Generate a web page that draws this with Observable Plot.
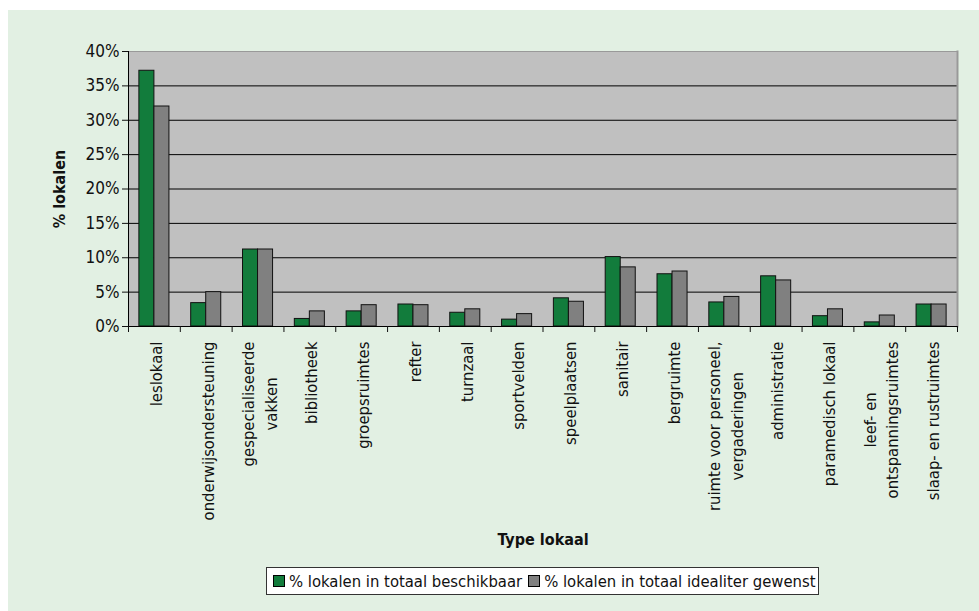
<!DOCTYPE html>
<html><head><meta charset="utf-8">
<script src="https://cdn.jsdelivr.net/npm/d3@7"></script>
<script src="https://cdn.jsdelivr.net/npm/@observablehq/plot@0.6"></script>
<style>
html,body{margin:0;padding:0;background:#fff;}
#panel{position:absolute;left:8px;top:10px;width:971px;height:601px;background:#e2f0e3;font-family:"DejaVu Sans Condensed","Liberation Sans Narrow",sans-serif;}
#chart{position:absolute;left:0;top:0;}
#legend{position:absolute;left:258px;top:557px;width:551px;height:26px;border:1px solid #333;background:#fff;display:flex;align-items:center;font-size:16.5px;color:#111;white-space:nowrap;box-sizing:content-box;}
.sw{flex:0 0 auto;display:inline-block;width:10px;height:10px;border:1px solid #000;margin:0 4px 0 6px;}
</style>
</head><body>
<div id="panel"><div id="chart"></div>
<div id="legend"><span class="sw" style="background:#127c3c"></span><span>% lokalen in totaal beschikbaar</span><span class="sw" style="background:#808080"></span><span>% lokalen in totaal idealiter gewenst</span></div>
</div>
<script>
const categories = ["leslokaal","onderwijsondersteuning","gespecialiseerde\nvakken","bibliotheek","groepsruimtes","refter","turnzaal","sportvelden","speelplaatsen","sanitair","bergruimte","ruimte voor personeel,\nvergaderingen","administratie","paramedisch lokaal","leef- en\nontspanningsruimtes","slaap- en rustruimtes"];
const beschikbaar = [37.2, 3.4, 11.2, 1.1, 2.2, 3.2, 2.0, 1.0, 4.1, 10.1, 7.6, 3.5, 7.3, 1.5, 0.6, 3.2];
const gewenst = [32.0, 5.0, 11.2, 2.2, 3.1, 3.1, 2.5, 1.8, 3.6, 8.6, 8.0, 4.3, 6.7, 2.5, 1.6, 3.2];
const yTicks = [0, 5, 10, 15, 20, 25, 30, 35, 40];
const gridTicks = [5, 10, 15, 20, 25, 30, 35];

const green = "#127c3c", gray = "#808080";
const W = 971, H = 550, ml = 120, mr = 22, mt = 41, mb = 234;
const step = (W - ml - mr) / categories.length;
const data = categories.map((c, i) => ({cat: c, b: beschikbaar[i], g: gewenst[i]}));
const font = '"DejaVu Sans Condensed","Liberation Sans Narrow",sans-serif';
const fs = 16.5;

const chart = Plot.plot({
  width: W, height: H,
  marginLeft: ml, marginRight: mr, marginTop: mt, marginBottom: mb,
  style: {background: "transparent", fontFamily: font, fontSize: fs + "px", color: "#111", overflow: "visible"},
  x: {domain: categories, padding: 0, round: false, label: null},
  y: {domain: [0, 40], label: null},
  marks: [
    Plot.frame({fill: "#c0c0c0", stroke: null}),
    Plot.ruleY(gridTicks, {stroke: "#000", strokeWidth: 1}),
    Plot.barY(data, {x: "cat", y: "b", fill: green, stroke: "#111", insetLeft: step * 0.21, insetRight: step * 0.5}),
    Plot.barY(data, {x: "cat", y: "g", fill: gray, stroke: "#111", insetLeft: step * 0.5, insetRight: step * 0.21}),
    Plot.frame({anchor: "top", stroke: "#999"}),
    Plot.frame({anchor: "right", stroke: "#999", strokeWidth: 2}),
    Plot.frame({anchor: "left", stroke: "#000"}),
    Plot.ruleY([0], {stroke: "#000"}),
    Plot.axisY({ticks: yTicks, tickFormat: d => d + "%", tickSize: 6, tickPadding: 3, label: null, fontSize: 17}),
    Plot.axisX({tickSize: 0, tickPadding: 15, tickRotate: -90, label: null, fontSize: fs, lineHeight: 1.38}),
    Plot.axisX({tickSize: 6, tickFormat: () => "", dx: -step / 2, label: null}),
    Plot.axisX({ticks: [categories[categories.length - 1]], tickSize: 6, tickFormat: () => "", dx: step / 2, label: null}),
    Plot.text(["% lokalen"], {frameAnchor: "left", textAnchor: "middle", rotate: -90, dx: -69, fontWeight: "bold", fontSize: 16}),
    Plot.text(["Type lokaal"], {frameAnchor: "bottom", textAnchor: "middle", dy: 218, fontWeight: "bold", fontSize: 16})
  ]
});
document.getElementById("chart").appendChild(chart);

// center the lines of multi-line category labels within their block
d3.select(chart).selectAll('g[aria-label="x-axis tick label"] text').each(function () {
  const tspans = d3.select(this).selectAll("tspan");
  if (tspans.size() > 1) {
    let w = 0;
    tspans.each(function () { w = Math.max(w, this.getComputedTextLength()); });
    d3.select(this).attr("text-anchor", "middle");
    tspans.attr("x", -w / 2);
  }
});
</script>
</body></html>
